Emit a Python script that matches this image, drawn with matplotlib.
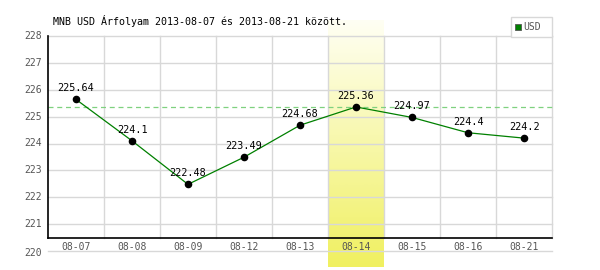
import numpy as np
import matplotlib
matplotlib.use("Agg")
import matplotlib.pyplot as plt
from matplotlib.patches import Rectangle
from matplotlib.colors import LinearSegmentedColormap

# 数据
dates = ["08-07", "08-08", "08-09", "08-12", "08-13", "08-14", "08-15", "08-16", "08-21"]
rates = [225.64, 224.1, 222.48, 223.49, 224.68, 225.36, 224.97, 224.4, 224.2]
y_ticks = [220, 221, 222, 223, 224, 225, 226, 227, 228]
highlight = 5
title = "MNB USD Árfolyam 2013-08-07 és 2013-08-21 között."

W, H = 600, 270
plt.rcParams['font.family'] = ['DejaVu Sans Mono']

fig = plt.figure(figsize=(W / 100, H / 100), dpi=100)
fig.patch.set_facecolor("white")

# 绘图区（像素坐标换算）
left, right, top, bottom = 48, 552, 36, 251
ax = fig.add_axes([left / W, (H - bottom) / H, (right - left) / W, (bottom - top) / H])
ax.set_xlim(0, len(dates))
ax.set_ylim(220, 228)
ax.axis("off")

px = (228 - 220) / (bottom - top)  # 每像素对应的数值
axis_y = 220 + 13 * px

# 高亮列渐变
cmap = LinearSegmentedColormap.from_list("hl", ["#fffff4", "#f0f060"])
grad = np.linspace(0, 1, 256).reshape(-1, 1)
ax.imshow(grad, cmap=cmap, aspect="auto", origin="upper",
          extent=[highlight, highlight + 1, 220 - 16 * px, 228 + 16 * px],
          clip_on=False, zorder=0.5)

# 网格
grid_c = "#d8d8d8"
for v in y_ticks:
    ax.plot([0, len(dates)], [v, v], color=grid_c, lw=1, zorder=1, clip_on=False)
for i in range(1, len(dates) + 1):
    ax.plot([i, i], [axis_y, 228], color=grid_c, lw=1, zorder=1, clip_on=False)

# 坐标轴线
ax.plot([0, 0], [axis_y, 228], color="black", lw=1.2, zorder=3, clip_on=False)
ax.plot([0, len(dates)], [axis_y, axis_y], color="black", lw=1.2, zorder=3, clip_on=False)

# 参考虚线
ax.plot([0, len(dates)], [rates[highlight]] * 2, color="#7fd17f", lw=0.9,
        ls=(0, (4, 3)), zorder=2, clip_on=False)

# 折线与数据点
xs = np.arange(len(dates)) + 0.5
ax.plot(xs, rates, color="#008000", lw=0.9, zorder=4)
ax.scatter(xs, rates, s=20, color="black", zorder=5)
for x, r in zip(xs, rates):
    ax.text(x, r + 6 * px, f"{r:g}", ha="center", va="bottom", fontsize=7.3,
            color="black", zorder=6)

# 刻度标签
for v in y_ticks:
    yy = v - 2 * px if v == 220 else v
    ax.text(-0.11, yy, str(v), ha="right", va="center",
            fontsize=7, color="#555555", clip_on=False)
for x, d in zip(xs, dates):
    ax.text(x, 220 + 4 * px, d, ha="center", va="center", fontsize=7,
            color="#555555", clip_on=False)

# 标题
fig.text(53 / W, 1 - 21 / H, title, ha="left", va="center", fontsize=7.2, color="black")

# 图例
fig.patches.append(Rectangle((511 / W, 1 - 37 / H), 41 / W, 20 / H, transform=fig.transFigure,
                             facecolor="white", edgecolor="#d8d8d8", lw=1, zorder=10))
fig.patches.append(Rectangle((515 / W, 1 - 30 / H), 6 / W, 6 / H, transform=fig.transFigure,
                             facecolor="#008000", edgecolor="#555555", lw=0.6, zorder=11))
fig.text(523 / W, 1 - 27 / H, "USD", ha="left", va="center", fontsize=7,
         color="#555555", zorder=12)

fig.savefig("out.png", dpi=100)
